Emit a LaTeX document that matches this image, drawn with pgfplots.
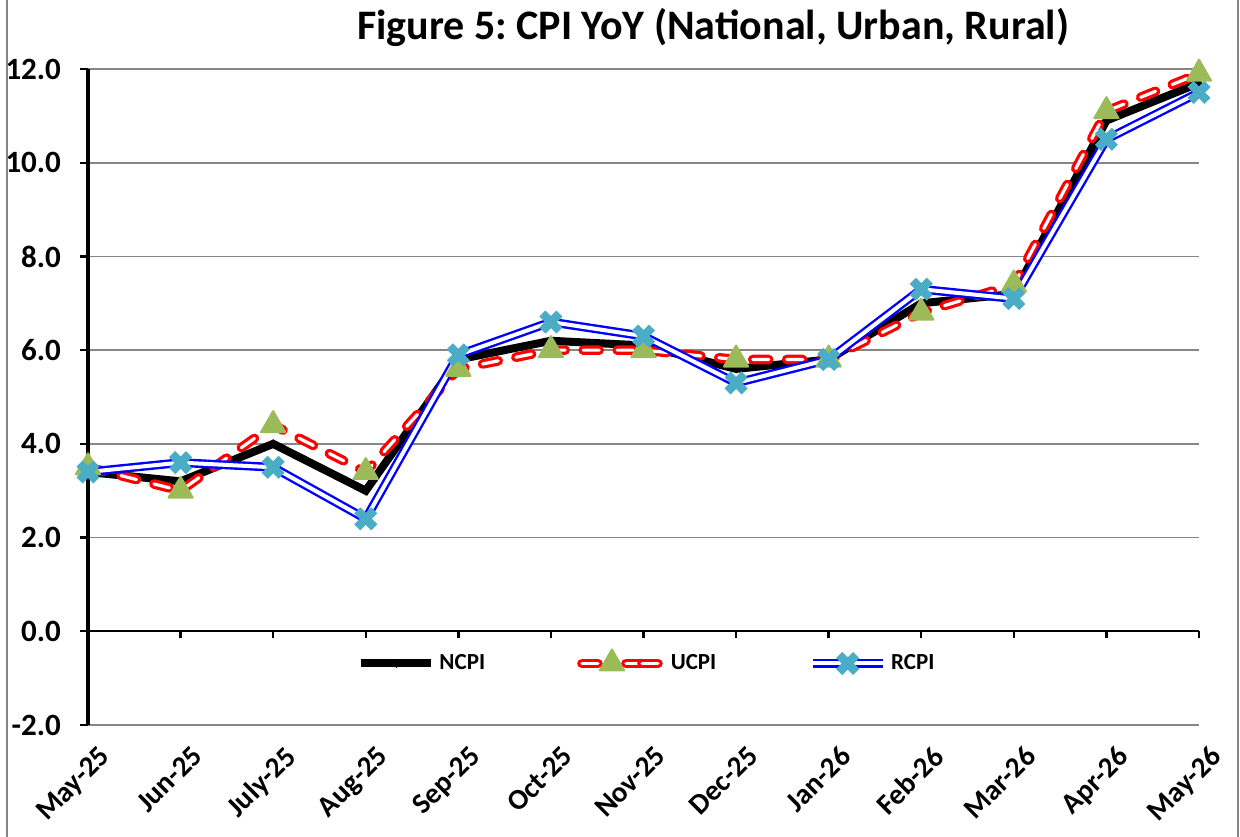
\documentclass[border=0pt]{standalone}
\usepackage{fontspec}
\setmainfont{Carlito}
\usepackage{pgfplots}
\pgfplotsset{compat=1.18}
\usepackage{pgfplotstable}

\definecolor{gridgray}{RGB}{134,134,134}
\definecolor{olivegreen}{RGB}{155,187,89}
\definecolor{aqua}{RGB}{75,172,198}
\definecolor{pureblue}{RGB}{0,0,255}
\definecolor{purered}{RGB}{255,0,0}

% CPI year-on-year, May-25 .. May-26
\pgfplotstableread{
idx NCPI UCPI RCPI
0   3.4  3.5  3.4
1   3.2  3.0  3.6
2   4.0  4.4  3.5
3   3.0  3.4  2.4
4   5.8  5.6  5.9
5   6.2  6.0  6.6
6   6.1  6.0  6.3
7   5.6  5.8  5.3
8   5.8  5.8  5.8
9   7.0  6.8  7.3
10  7.2  7.4  7.1
11  10.9 11.1 10.5
12  11.7 11.9 11.5
}\cpidata

\begin{document}
\frenchspacing
\begin{tikzpicture}
\path[use as bounding box] (-44pt,-55.5pt) rectangle (576pt,362.5pt);
\begin{axis}[
    at={(0,0)}, anchor=south west,
    scale only axis,
    width=555.5pt, height=328pt,
    xmin=0, xmax=12, ymin=-2, ymax=12,
    axis lines*=left,
    x axis line style={draw=none},
    y axis line style={-, line width=2pt, black},
    major x tick style={draw=none},
    ytick={-2,0,...,12},
    xtick={0,...,12},
    xticklabels={May-25,Jun-25,July-25,Aug-25,Sep-25,Oct-25,Nov-25,Dec-25,Jan-26,Feb-26,Mar-26,Apr-26,May-26},
    tick align=outside,
    major tick length=4pt,
    major y tick style={line width=1.2pt, black},
    ymajorgrids,
    grid style={gridgray, line width=0.8pt},
    yticklabel style={font=\fontsize{15.5}{18}\selectfont\bfseries, xshift=-6pt,
        /pgf/number format/.cd, fixed, fixed zerofill, precision=1, assume math mode=true},
    xticklabel style={font=\fontsize{14.5}{17}\selectfont\bfseries,
        rotate=45, anchor=north east, yshift=-4pt, xshift=3pt},
    title={Figure 5: CPI YoY (National, Urban, Rural)},
    title style={at={(0.5626,1)}, anchor=base, yshift=8.5pt,
        font=\fontsize{21}{24}\selectfont\bfseries},
    legend columns=3,
    legend style={at={(0.504,0.0945)}, anchor=center, draw=none, fill=none,
        font=\fontsize{11.5}{13}\selectfont\bfseries,
        /tikz/every even column/.append style={column sep=44pt}},
    legend image code/.code={
        \draw[mark repeat=2,mark phase=2] plot coordinates {(0pt,0pt) (17.5pt,0pt) (35pt,0pt)};},
    clip=false,
]
\addplot[black, line width=4pt, mark=diamond*, mark size=2pt,
    mark options={solid, line width=0.4pt}]
    table[x=idx, y=NCPI] {\cpidata};
\addlegendentry{NCPI}
\addplot[purered, line width=1.6pt, double=white, double distance=1.6pt,
    line cap=round, dash pattern=on 8pt off 9pt,
    mark=triangle*, mark size=7pt,
    mark options={solid, draw=olivegreen, fill=olivegreen, line width=1pt, line join=round, double=none},
    legend image code/.code={
        \draw[solid] (0pt,0pt) -- (8pt,0pt);
        \draw[solid] (22pt,0pt) -- (30pt,0pt);
        \draw plot[only marks] coordinates {(15pt,0pt)};
        \path (30pt,0pt) -- (40pt,0pt);}]
    table[x=idx, y=UCPI] {\cpidata};
\addlegendentry{UCPI}
\addplot[pureblue, line width=1.2pt, double=white, double distance=2pt,
    mark=x, mark size=6pt,
    mark options={solid, draw=aqua, line width=4.3pt, double=none}]
    table[x=idx, y=RCPI] {\cpidata};
\addlegendentry{RCPI}
% zero line with its ticks
\draw[black, line width=1.2pt] (axis cs:0,0) -- (axis cs:12,0);
\pgfplotsinvokeforeach{1,...,12}{
    \draw[black, line width=1.2pt] (axis cs:#1,0) -- ++(0pt,-3.5pt);
}
\end{axis}
\draw[gridgray, line width=0.8pt] (-40.5pt,-60pt) -- (-40.5pt,370pt);
\draw[gridgray, line width=0.8pt] (575pt,-60pt) -- (575pt,370pt);
\end{tikzpicture}
\end{document}
